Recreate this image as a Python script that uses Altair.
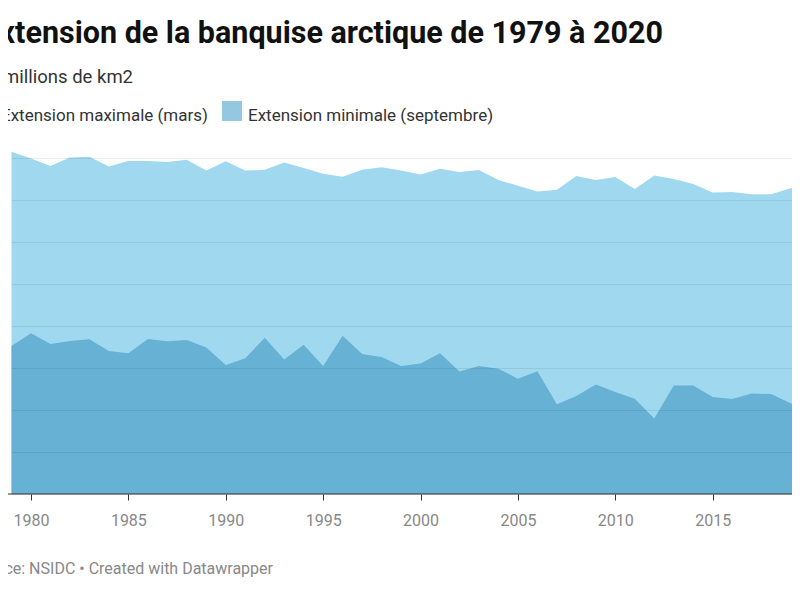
import altair as alt
import pandas as pd

years = list(range(1979, 2021))
max_ext = [16.30, 15.98, 15.62, 16.02, 16.06, 15.59, 15.86, 15.86, 15.81, 15.92,
           15.41, 15.84, 15.40, 15.44, 15.78, 15.52, 15.25, 15.11, 15.44, 15.56,
           15.40, 15.21, 15.49, 15.33, 15.43, 14.95, 14.68, 14.40, 14.49, 15.14,
           14.95, 15.10, 14.52, 15.17, 15.00, 14.76, 14.36, 14.38, 14.27, 14.27,
           14.56, 14.75]
min_ext = [7.05, 7.65, 7.14, 7.29, 7.37, 6.81, 6.70, 7.38, 7.27, 7.33,
           6.98, 6.14, 6.46, 7.44, 6.41, 7.11, 6.10, 7.54, 6.67, 6.52,
           6.10, 6.22, 6.70, 5.83, 6.10, 5.97, 5.49, 5.84, 4.27, 4.67,
           5.22, 4.86, 4.54, 3.59, 5.17, 5.17, 4.62, 4.52, 4.78, 4.76,
           4.32, 3.82]
series_names = ["Extension maximale (mars)", "Extension minimale (septembre)"]
series_colors = ["#a0d9ef", "#67b1d4"]
x_ticks = [1980, 1985, 1990, 1995, 2000, 2005, 2010, 2015, 2020]
y_grid = [0, 2, 4, 6, 8, 10, 12, 14, 16]

TITLE = "Extension de la banquise arctique de 1979 à 2020"
SUBTITLE = "millions de km2"
FOOTER = "Source: NSIDC • Created with Datawrapper"

df = pd.DataFrame({
    "year": years * 2,
    "value": max_ext + min_ext,
    "series": [series_names[0]] * len(years) + [series_names[1]] * len(years),
})

FONT = "Roboto"
W, H = 784, 336

x_enc = alt.X(
    "year:Q",
    scale=alt.Scale(domain=[1979, 2020], range=[3.5, 802.1], nice=False, zero=False),
    axis=alt.Axis(values=x_ticks, format="d", title=None, grid=False, domain=False,
                  tickColor="#333333", tickSize=6, tickWidth=1, labelPadding=12,
                  labelColor="#888888", labelFont=FONT, labelFontSize=16,
                  labelFlush=False, labelOverlap=False, zindex=2),
)
y_enc = alt.Y(
    "value:Q",
    stack=None,
    scale=alt.Scale(domain=[0, 16], nice=False, zero=True),
    axis=alt.Axis(values=y_grid, labels=False, ticks=False, domain=False, title=None,
                  grid=True, gridColor="#000000", gridOpacity=0.08, zindex=1),
)
color_enc = alt.Color(
    "series:N",
    scale=alt.Scale(domain=series_names, range=series_colors),
    legend=alt.Legend(orient="none", legendX=-33, legendY=-52.5, direction="horizontal",
                      title=None, symbolType="M-1,-1.45H1V0.55H-1Z", symbolSize=400,
                      symbolStrokeWidth=0, symbolOpacity=0.7,
                      labelFont=FONT, labelFontSize=17, labelColor="#333333",
                      labelOffset=6, columnPadding=14, padding=0, labelLimit=0),
)

base = alt.Chart(df)
area_max = base.transform_filter(alt.datum.series == series_names[0]).mark_area(
    opacity=1, interpolate="linear").encode(x=x_enc, y=y_enc, color=color_enc)
area_min = base.transform_filter(alt.datum.series == series_names[1]).mark_area(
    opacity=1, interpolate="linear").encode(x=x_enc, y=y_enc, color=color_enc)

baseline = alt.Chart(pd.DataFrame({"v": [0]})).mark_rule(
    color="#333333", strokeWidth=1).encode(
    x=alt.value(-8), x2=alt.value(W), y=alt.value(H))

title_t = alt.Chart(pd.DataFrame({"t": [TITLE]})).mark_text(
    align="right", baseline="alphabetic", font=FONT, fontSize=30.5, fontWeight="bold",
    color="#111111").encode(x=alt.value(655), y=alt.value(-115.5), text="t:N")
sub_t = alt.Chart(pd.DataFrame({"t": [SUBTITLE]})).mark_text(
    align="right", baseline="alphabetic", font=FONT, fontSize=18.5,
    color="#333333").encode(x=alt.value(125), y=alt.value(-75.3), text="t:N")
foot_t = alt.Chart(pd.DataFrame({"t": [FOOTER]})).mark_text(
    align="right", baseline="alphabetic", font=FONT, fontSize=16,
    color="#888888").encode(x=alt.value(265), y=alt.value(416), text="t:N")

chart = alt.layer(area_max, area_min, baseline, title_t, sub_t, foot_t).properties(
    width=W, height=H,
    autosize=alt.AutoSizeParams(type="none"),
    padding={"left": 0, "right": 0, "top": 150, "bottom": 84},
    background="white",
).configure_view(stroke=None)

chart.save("out.html", embed_options={"renderer": "svg", "actions": False})
